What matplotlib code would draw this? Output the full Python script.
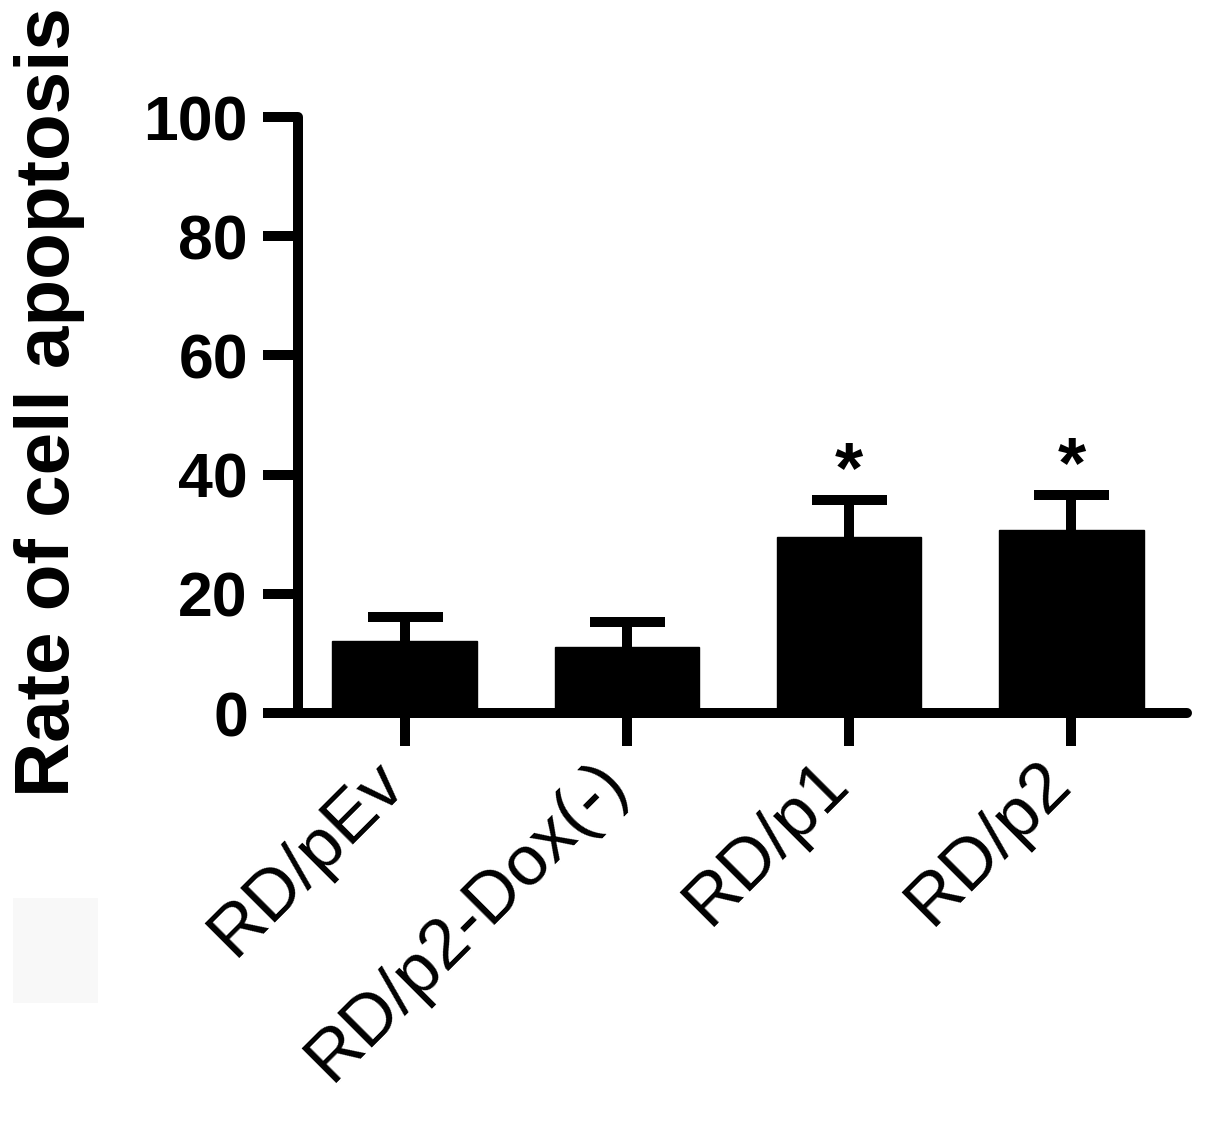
import matplotlib
matplotlib.use('Agg')
import matplotlib.pyplot as plt
import matplotlib.transforms as mtransforms
from matplotlib.patches import Rectangle

plt.rcParams['font.family'] = ['Liberation Sans', 'DejaVu Sans']

# data
groups = ['RD/pEv', 'RD/p2-Dox(-)', 'RD/p1', 'RD/p2']
rates = [12.1, 11.1, 29.5, 30.7]
sd = [4.0, 4.2, 6.2, 5.9]
marks = ['', '', '*', '*']
yticks = [0, 20, 40, 60, 80, 100]

fig = plt.figure(figsize=(12.05, 11.22), dpi=100)
ax = fig.add_axes([0.2473, 0.3645, 0.7378, 0.5312])

lw = 7.2
x = list(range(len(groups)))
ax.bar(x, rates, width=0.65, color='black', edgecolor='black', zorder=2)
eb = ax.errorbar(x, rates, yerr=[[0] * len(sd), sd], fmt='none', ecolor='black',
                 elinewidth=lw, capsize=27, capthick=lw, zorder=1)
# only the upper cap is wanted
eb.lines[1][0].set_visible(False)

# significance stars above the error bars
for xi, r, s, m in zip(x, rates, sd, marks):
    if m:
        ax.annotate(m, (xi, r + s), xytext=(0, -5), textcoords='offset points',
                    ha='center', va='bottom', fontsize=52, fontweight='bold')

ax.set_xlim(-0.48, 3.52)
ax.set_ylim(0, 100)
ax.set_yticks(yticks)
ax.set_yticklabels([str(t) for t in yticks], fontsize=45, fontweight='bold')
ax.set_xticks(x)
ax.set_xticklabels(groups, fontsize=51, rotation=45, ha='right')

for side in ['top', 'right']:
    ax.spines[side].set_visible(False)
for side in ['left', 'bottom']:
    ax.spines[side].set_linewidth(lw)
    ax.spines[side].set_capstyle('round')

ax.tick_params(axis='y', length=25, width=lw, pad=11)
ax.tick_params(axis='x', length=24, width=lw, pad=2)

# nudge rotated labels right so they end just past the tick
shift = mtransforms.ScaledTranslation(0.12, 0, fig.dpi_scale_trans)
for lab in ax.get_xticklabels():
    lab.set_transform(lab.get_transform() + shift)

fig.text(0.012, 0.642, 'Rate of cell apoptosis', rotation=90, ha='left', va='center',
         fontsize=55, fontweight='bold')

# faint grey patch in the lower left corner
fig.patches.append(Rectangle((0.011, 0.106), 0.07, 0.094, transform=fig.transFigure,
                             facecolor='#f8f8f8', edgecolor='none'))

fig.savefig('out.png', dpi=100)
